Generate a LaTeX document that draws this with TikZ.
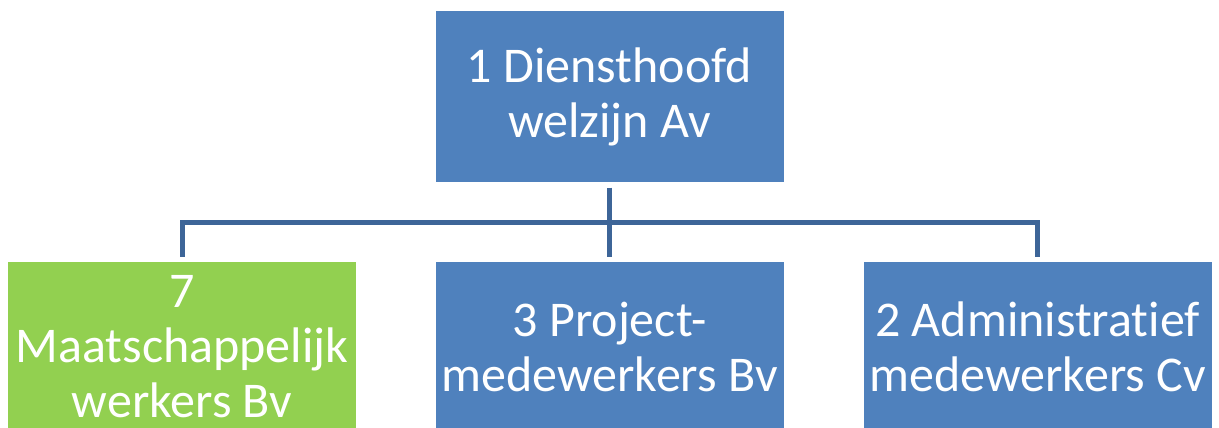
\documentclass[tikz,border=0pt]{standalone}
\usepackage{fontspec}
\setmainfont{Carlito}[Ligatures={NoCommon}]
\definecolor{boxblue}{HTML}{4F81BD}
\definecolor{boxgreen}{HTML}{92D050}
\definecolor{linkblue}{HTML}{3D6598}
\begin{document}
\begin{tikzpicture}[x=1pt,y=-1pt,
  orgbox/.style={fill=boxblue, draw=none, minimum width=348pt, minimum height=170pt, inner sep=0pt,
    text=white, align=center, font=\fontsize{50}{55}\selectfont},
  greenbox/.style={orgbox, fill=boxgreen},
  link/.style={draw=linkblue, line width=5pt}]
\useasboundingbox (0,0) rectangle (1219,428);
\begin{scope}
\clip (0,0) rectangle (1219,428);
\node[orgbox] (head) at (609.5,96.5) {1 Diensthoofd\\welzijn Av};
\node[greenbox] (mw) at (182,347) {7\\Maatschappelijk\\werkers Bv};
\node[orgbox] (pm) at (609.5,347) {3 Project-\\medewerkers Bv};
\node[orgbox] (am) at (1037.5,347) {2 Administratief\\medewerkers Cv};
\end{scope}
\coordinate (bar) at (609.5,222);
\draw[link] ([yshift=-6pt]head.south) -- (bar);
\draw[link] ([yshift=5pt]mw.north) -- (mw.north |- bar) -- (am.north |- bar) -- ([yshift=5pt]am.north);
\draw[link] (bar) -- ([yshift=5pt]pm.north);
\end{tikzpicture}
\end{document}
